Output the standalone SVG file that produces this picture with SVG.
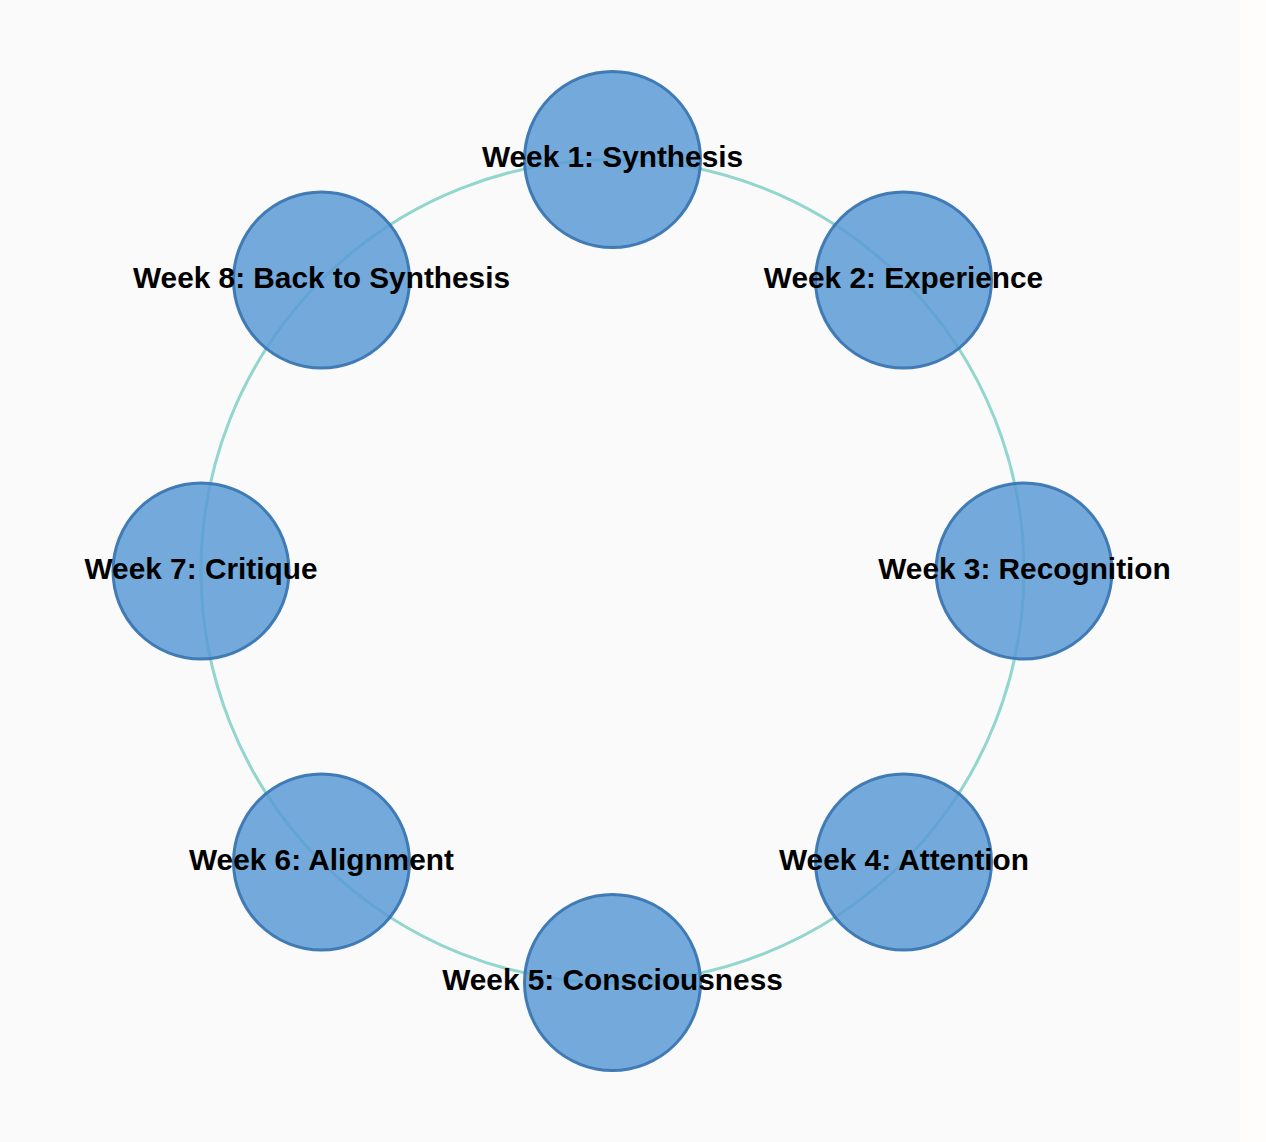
<svg xmlns="http://www.w3.org/2000/svg" width="1266" height="1142" viewBox="0 0 1266 1142">
<style>
.node circle{fill:#5b9bd5;fill-opacity:0.85;stroke:#3a76b2;stroke-opacity:0.95;stroke-width:3}
.node text{font-family:"Liberation Sans",Arial,sans-serif;font-weight:bold;font-size:29.8px;fill:#000;text-anchor:middle}
.ring{fill:none;stroke:#7fcfc6;stroke-opacity:0.85;stroke-width:3}
</style>
<rect x="0" y="0" width="1266" height="1142" fill="#fefdfc"/>
<rect x="0" y="0" width="1240" height="1142" fill="#fafafa"/>
<g id="connectors">
<circle class="ring" cx="612.5" cy="571" r="411.5"/>
</g>
<g id="node1" class="node"><circle cx="612.5" cy="159.5" r="88"/><text x="612.5" y="167">Week 1: Synthesis</text></g>
<g id="node2" class="node"><circle cx="903.5" cy="280" r="88"/><text x="903.5" y="288">Week 2: Experience</text></g>
<g id="node3" class="node"><circle cx="1024" cy="571" r="88"/><text x="1024.5" y="579">Week 3: Recognition</text></g>
<g id="node4" class="node"><circle cx="903.5" cy="862" r="88"/><text x="904" y="870">Week 4: Attention</text></g>
<g id="node5" class="node"><circle cx="612.5" cy="982.5" r="88"/><text x="612.5" y="990">Week 5: Consciousness</text></g>
<g id="node6" class="node"><circle cx="321.5" cy="862" r="88"/><text x="321.5" y="870">Week 6: Alignment</text></g>
<g id="node7" class="node"><circle cx="201" cy="571" r="88"/><text x="201" y="579">Week 7: Critique</text></g>
<g id="node8" class="node"><circle cx="321.5" cy="280" r="88"/><text x="321.5" y="288">Week 8: Back to Synthesis</text></g>
</svg>
